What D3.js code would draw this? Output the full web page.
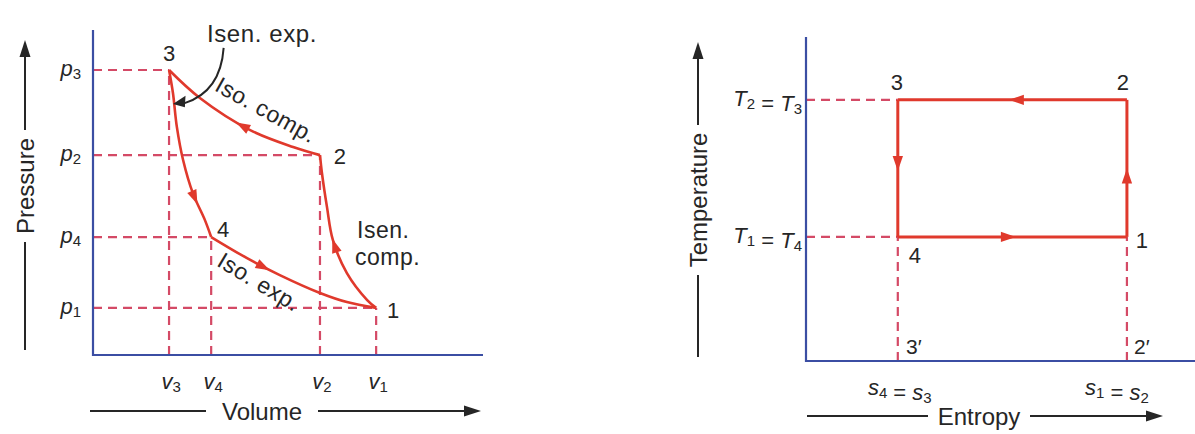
<!DOCTYPE html>
<html>
<head>
<meta charset="utf-8">
<script src="https://cdn.jsdelivr.net/npm/d3@7"></script>
<style>
  body { margin: 0; background: #fff; }
  svg { display: block; font-family: "Liberation Sans", Arial, sans-serif; }
</style>
</head>
<body>
<svg id="chart" width="1195" height="434"></svg>
<script>
// ---- p-V diagram data (arbitrary units) ----
const pvStateNames = ["1", "2", "3", "4"];
const volumes   = [7.26, 5.82, 1.95, 3.03];   // v1..v4
const pressures = [1.45, 6.15, 8.77, 3.63];   // p1..p4

// process curves, points
const isenCompV = [7.26, 7.03, 6.51, 6.15, 6.00, 5.87, 5.82];   // 1 -> 2
const isenCompP = [1.45, 1.69, 2.52, 3.54, 4.55, 5.60, 6.15];
const isoCompV  = [5.82, 5.13, 4.03, 2.74, 1.95];               // 2 -> 3
const isoCompP  = [6.15, 6.40, 6.92, 7.91, 8.77];
const isenExpV  = [1.95, 2.05, 2.15, 2.31, 2.56, 2.87, 3.03];   // 3 -> 4
const isenExpP  = [8.77, 8.06, 7.02, 6.00, 4.98, 4.15, 3.63];
const isoExpV   = [3.03, 3.95, 4.79, 5.82, 6.51, 7.26];         // 4 -> 1
const isoExpP   = [3.63, 2.98, 2.46, 1.91, 1.63, 1.45];

// ---- T-s diagram data ----
const tsStateNames = ["1", "2", "3", "4"];
const entropies    = [8.25, 8.25, 2.36, 2.36];  // s1..s4
const temperatures = [3.83, 8.06, 8.06, 3.83];  // T1..T4

const red = "#e0392c", dashRed = "#d44a66", axisBlue = "#3b4ea3", ink = "#262626";

const svg = d3.select("#chart");
svg.append("rect").attr("width", 1195).attr("height", 434).attr("fill", "#fff");

// scales
const xPV = d3.scaleLinear().domain([0, 10]).range([93, 483]);
const yPV = d3.scaleLinear().domain([0, 10]).range([355, 30]);
const xTS = d3.scaleLinear().domain([0, 10]).range([806, 1195]);
const yTS = d3.scaleLinear().domain([0, 10]).range([361, 37]);

// arrowhead placed along a path
function arrowOn(g, node, frac, color, size) {
  const L = node.getTotalLength();
  const p = node.getPointAtLength(L * frac);
  const q = node.getPointAtLength(Math.min(L, L * frac + 1));
  const ang = Math.atan2(q.y - p.y, q.x - p.x) * 180 / Math.PI;
  const s = size || 1;
  g.append("path")
    .attr("d", `M${7 * s},0 L${-6 * s},${-4.5 * s} L${-6 * s},${4.5 * s}Z`)
    .attr("fill", color)
    .attr("transform", `translate(${p.x},${p.y}) rotate(${ang})`);
}

// italic symbol with subscript
function symLabel(g, x, y, parts, anchor) {
  const t = g.append("text").attr("x", x).attr("y", y)
    .attr("text-anchor", anchor || "middle").attr("fill", ink)
    .attr("dominant-baseline", "middle");
  parts.forEach(pt => {
    if (pt.sub) {
      t.append("tspan").attr("dy", 5).attr("font-size", 15).text(pt.sub);
      t.append("tspan").attr("dy", -5).attr("font-size", 21).text("");
    } else {
      t.append("tspan").attr("font-size", 22)
        .attr("font-style", pt.italic ? "italic" : "normal").text(pt.txt);
    }
  });
  return t;
}

// axis title with line + arrow
function horizTitle(x0, x1, xt0, xt1, y, label) {
  svg.append("line").attr("x1", x0).attr("x2", xt0).attr("y1", y).attr("y2", y)
    .attr("stroke", ink).attr("stroke-width", 2);
  svg.append("line").attr("x1", xt1).attr("x2", x1 - 10).attr("y1", y).attr("y2", y)
    .attr("stroke", ink).attr("stroke-width", 2);
  svg.append("path").attr("d", `M${x1},${y} L${x1 - 17},${y - 5.5} L${x1 - 17},${y + 5.5}Z`).attr("fill", ink);
  svg.append("text").attr("x", (xt0 + xt1) / 2).attr("y", y)
    .attr("text-anchor", "middle").attr("dominant-baseline", "central")
    .attr("font-size", 24).attr("fill", ink).text(label);
}
function vertTitle(x, yTop, yBot, yt0, yt1, label) {
  svg.append("line").attr("x1", x).attr("x2", x).attr("y1", yTop + 10).attr("y2", yt0)
    .attr("stroke", ink).attr("stroke-width", 2);
  svg.append("line").attr("x1", x).attr("x2", x).attr("y1", yt1).attr("y2", yBot)
    .attr("stroke", ink).attr("stroke-width", 2);
  svg.append("path").attr("d", `M${x},${yTop} L${x - 5.5},${yTop + 17} L${x + 5.5},${yTop + 17}Z`).attr("fill", ink);
  svg.append("text").attr("transform", `translate(${x},${(yt0 + yt1) / 2}) rotate(-90)`)
    .attr("text-anchor", "middle").attr("dominant-baseline", "central")
    .attr("font-size", 24).attr("fill", ink).text(label);
}

// ================= p-V diagram =================
const pv = svg.append("g");

// dashed guides
const pvGuides = pv.append("g").attr("stroke", dashRed).attr("stroke-width", 2.2)
  .attr("stroke-dasharray", "9,6").attr("fill", "none");
volumes.forEach((v, i) => {
  pvGuides.append("line").attr("x1", xPV(0)).attr("x2", xPV(v))
    .attr("y1", yPV(pressures[i])).attr("y2", yPV(pressures[i]));
  pvGuides.append("line").attr("x1", xPV(v)).attr("x2", xPV(v))
    .attr("y1", yPV(0)).attr("y2", yPV(pressures[i]));
});

// axes
pv.append("path").attr("d", `M${xPV(0)},${yPV(10)} V${yPV(0)} H${xPV(10)}`)
  .attr("fill", "none").attr("stroke", axisBlue).attr("stroke-width", 2.2);

// process curves
const linePV = d3.line().x(d => xPV(d[0])).y(d => yPV(d[1])).curve(d3.curveCatmullRom.alpha(0.5));
const processes = [
  { v: isenCompV, p: isenCompP, arrow: 0.45 },
  { v: isoCompV,  p: isoCompP,  arrow: 0.47 },
  { v: isenExpV,  p: isenExpP,  arrow: 0.75 },
  { v: isoExpV,   p: isoExpP,   arrow: 0.33 }
];
processes.forEach(pr => {
  const pts = pr.v.map((v, i) => [v, pr.p[i]]);
  const node = pv.append("path").attr("d", linePV(pts)).attr("fill", "none")
    .attr("stroke", red).attr("stroke-width", 2.6).node();
  arrowOn(pv, node, pr.arrow, red, 1.1);
});

// tick labels
const pLabelOrder = [2, 1, 3, 0];
["3", "2", "4", "1"].forEach((sub, k) => {
  const i = pLabelOrder[k];
  symLabel(pv, 81, yPV(pressures[i]), [{ txt: "p", italic: true }, { sub: sub }], "end");
  symLabel(pv, xPV(volumes[i]) + 2, 383, [{ txt: "v", italic: true }, { sub: sub }], "middle");
});

// state numbers
const pvNumOffsets = [[17, 3], [20, 1], [0, -16], [12, -8]];
pvStateNames.forEach((n, i) => {
  pv.append("text").attr("x", xPV(volumes[i]) + pvNumOffsets[i][0])
    .attr("y", yPV(pressures[i]) + pvNumOffsets[i][1])
    .attr("text-anchor", "middle").attr("dominant-baseline", "central")
    .attr("font-size", 22).attr("fill", ink).text(n);
});

// process annotations
pv.append("text").attr("x", 262).attr("y", 33).attr("text-anchor", "middle")
  .attr("dominant-baseline", "central").attr("font-size", 24).attr("letter-spacing", 0.6)
  .attr("fill", ink).text("Isen. exp.");
pv.append("path").attr("d", `M${xPV(3.35)},${yPV(9.45)} C${xPV(3.3)},${yPV(8.6)} ${xPV(3.0)},${yPV(8.0)} ${xPV(2.35)},${yPV(7.75)}`)
  .attr("fill", "none").attr("stroke", ink).attr("stroke-width", 2);
pv.append("path").attr("d", "M0,0 L14,-5.5 L11,5.5Z").attr("fill", ink)
  .attr("transform", `translate(${xPV(2.05)},${yPV(7.72)}) rotate(-12)`);

pv.append("text").attr("transform", "translate(266,110) rotate(29)")
  .attr("text-anchor", "middle").attr("dominant-baseline", "central")
  .attr("font-size", 23).attr("letter-spacing", 0.5).attr("fill", ink).text("Iso. comp.");
pv.append("text").attr("transform", "translate(259,282) rotate(31)")
  .attr("text-anchor", "middle").attr("dominant-baseline", "central")
  .attr("font-size", 23).attr("letter-spacing", 0.5).attr("fill", ink).text("Iso. exp.");
pv.append("text").attr("x", 357).attr("y", 230).attr("dominant-baseline", "central")
  .attr("font-size", 23).attr("letter-spacing", 0.5).attr("fill", ink).text("Isen.");
pv.append("text").attr("x", 355).attr("y", 257).attr("dominant-baseline", "central")
  .attr("font-size", 23).attr("letter-spacing", 0.5).attr("fill", ink).text("comp.");

vertTitle(25, 40, 350, 130, 242, "Pressure");
horizTitle(90, 481, 206, 318, 411, "Volume");

// ================= T-s diagram =================
const ts = svg.append("g");
const tsGuides = ts.append("g").attr("stroke", dashRed).attr("stroke-width", 2.2)
  .attr("stroke-dasharray", "9,6").attr("fill", "none");
// horizontal guides at T2=T3 and T1=T4, vertical guides under 4 and 1
[2, 3].forEach(i => {
  tsGuides.append("line").attr("x1", xTS(0)).attr("x2", xTS(entropies[i]))
    .attr("y1", yTS(temperatures[i])).attr("y2", yTS(temperatures[i]));
});
[0, 3].forEach(i => {
  tsGuides.append("line").attr("x1", xTS(entropies[i])).attr("x2", xTS(entropies[i]))
    .attr("y1", yTS(0)).attr("y2", yTS(temperatures[i]));
});

ts.append("path").attr("d", `M${xTS(0)},${yTS(10)} V${yTS(0)} H${xTS(10)}`)
  .attr("fill", "none").attr("stroke", axisBlue).attr("stroke-width", 2.2);

// cycle 1 -> 2 -> 3 -> 4 -> 1
const lineTS = d3.line().x(d => xTS(d[0])).y(d => yTS(d[1]));
const tsOrder = [[0, 1], [1, 2], [2, 3], [3, 0]];
const tsArrowAt = [0.44, 0.48, 0.46, 0.48];
tsOrder.forEach((seg, k) => {
  const pts = seg.map(i => [entropies[i], temperatures[i]]);
  const node = ts.append("path").attr("d", lineTS(pts)).attr("fill", "none")
    .attr("stroke", red).attr("stroke-width", 3).node();
  arrowOn(ts, node, tsArrowAt[k], red, 1.15);
});

// state numbers
const tsNumOffsets = [[15, 4], [-4, -17], [-1, -17], [17, 19]];
tsStateNames.forEach((n, i) => {
  ts.append("text").attr("x", xTS(entropies[i]) + tsNumOffsets[i][0])
    .attr("y", yTS(temperatures[i]) + tsNumOffsets[i][1])
    .attr("text-anchor", "middle").attr("dominant-baseline", "central")
    .attr("font-size", 22).attr("fill", ink).text(n);
});
ts.append("text").attr("x", xTS(entropies[3]) + 16).attr("y", 346)
  .attr("text-anchor", "middle").attr("dominant-baseline", "central")
  .attr("font-size", 21).attr("fill", ink).text("3′");
ts.append("text").attr("x", xTS(entropies[0]) + 15).attr("y", 346)
  .attr("text-anchor", "middle").attr("dominant-baseline", "central")
  .attr("font-size", 21).attr("fill", ink).text("2′");

// temperature & entropy labels
symLabel(ts, 802, yTS(temperatures[1]), [{ txt: "T", italic: true }, { sub: "2" }, { txt: " = " }, { txt: "T", italic: true }, { sub: "3" }], "end");
symLabel(ts, 802, yTS(temperatures[0]), [{ txt: "T", italic: true }, { sub: "1" }, { txt: " = " }, { txt: "T", italic: true }, { sub: "4" }], "end");
symLabel(ts, xTS(entropies[3]) + 2, 389, [{ txt: "s", italic: true }, { sub: "4" }, { txt: " = " }, { txt: "s", italic: true }, { sub: "3" }], "middle");
symLabel(ts, xTS(entropies[0]) - 10, 389, [{ txt: "s", italic: true }, { sub: "1" }, { txt: " = " }, { txt: "s", italic: true }, { sub: "2" }], "middle");

vertTitle(698, 42, 357, 125, 275, "Temperature");
horizTitle(807, 1163, 928, 1030, 416, "Entropy");
</script>
</body>
</html>
